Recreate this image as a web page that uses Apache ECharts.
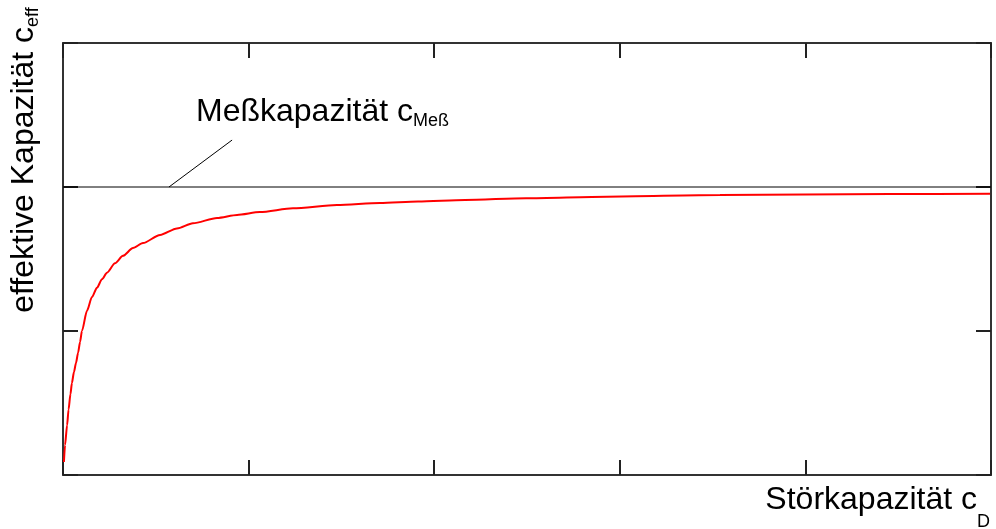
<!DOCTYPE html>
<html>
<head>
<meta charset="utf-8">
<script src="https://cdn.jsdelivr.net/npm/echarts@6/dist/echarts.min.js"></script>
<style>
  html, body { margin: 0; padding: 0; background: #ffffff; }
  #chart { width: 996px; height: 529px; }
</style>
</head>
<body>
<div id="chart"></div>
<script>
// Störkapazität c_D (relative units along the x axis)
const cD = [0.005, 0.011, 0.022, 0.030, 0.040, 0.048, 0.059, 0.070, 0.081, 0.092,
            0.102, 0.129, 0.156, 0.183, 0.210, 0.237, 0.280, 0.323, 0.377, 0.431,
            0.523, 0.614, 0.700, 0.830, 0.938, 1.061, 1.239, 1.476, 1.708, 1.913,
            2.166, 2.495, 2.931, 3.540, 4.456, 4.995];
// effektive Kapazität c_eff for each c_D
const cEff = [0.09, 0.208, 0.345, 0.455, 0.560, 0.639, 0.715, 0.778, 0.847, 0.924,
              1.000, 1.140, 1.236, 1.300, 1.360, 1.405, 1.470, 1.522, 1.576, 1.611,
              1.667, 1.712, 1.748, 1.785, 1.806, 1.826, 1.852, 1.875, 1.889, 1.899,
              1.910, 1.922, 1.933, 1.944, 1.951, 1.953];
// Meßkapazität c_Meß (horizontal reference level)
const cMess = 2;
// leader line from the reference level up to its label
const leaderX = [0.571, 0.911];
const leaderY = [2, 2.326];

const FONT = '"Liberation Sans", Arial, sans-serif';
const frame = { color: '#333333', width: 2 };

function makeAxis(position, max) {
  return {
    type: 'value', position: position, min: 0, max: max, interval: 1,
    axisLine: { show: true, onZero: false, lineStyle: frame },
    axisTick: { show: true, inside: true, length: 15, lineStyle: { color: '#222', width: 2 } },
    axisLabel: { show: false },
    splitLine: { show: false }
  };
}

// main text + subscript, both bottom aligned; padding under the main text lifts it above the subscript
function subRich(lift) {
  return {
    a: { fontFamily: FONT, fontSize: 32, lineHeight: 38, fill: '#000', verticalAlign: 'bottom', padding: [0, 0, lift, 0] },
    b: { fontFamily: FONT, fontSize: 18, lineHeight: 20, fill: '#000', verticalAlign: 'bottom' }
  };
}

const chart = echarts.init(document.getElementById('chart'), null, { renderer: 'canvas' });
chart.setOption({
  animation: false,
  backgroundColor: '#ffffff',
  grid: { left: 63, right: 5, top: 43, bottom: 54 },
  xAxis: [makeAxis('bottom', 5), makeAxis('top', 5)],
  yAxis: [makeAxis('left', 3), makeAxis('right', 3)],
  series: [
    {
      name: 'cMess', type: 'line', symbol: 'none', silent: true,
      data: [[0, cMess], [5, cMess]],
      lineStyle: { color: '#000000', width: 1 }
    },
    {
      name: 'leader', type: 'line', symbol: 'none', silent: true,
      data: leaderX.map((x, i) => [x, leaderY[i]]),
      lineStyle: { color: '#000000', width: 1 }
    },
    {
      name: 'cEff', type: 'line', symbol: 'none', silent: true,
      smooth: 0.25, smoothMonotone: 'x',
      data: cD.map((x, i) => [x, cEff[i]]),
      lineStyle: { color: '#ff0000', width: 2 }
    }
  ],
  graphic: [
    {
      type: 'text', left: 196, top: 96, silent: true,
      style: { text: '{a|Meßkapazität c}{b|Meß}', rich: subRich(2) }
    },
    {
      type: 'text', right: 6, top: 484, silent: true,
      style: { text: '{a|Störkapazität c}{b|D}', rich: subRich(15) }
    },
    {
      type: 'text', x: 23, y: 160, rotation: Math.PI / 2, silent: true,
      style: {
        text: '{a|effektive Kapazität c}{b|eff}',
        align: 'center', verticalAlign: 'middle',
        rich: subRich(2)
      }
    }
  ]
});
</script>
</body>
</html>
